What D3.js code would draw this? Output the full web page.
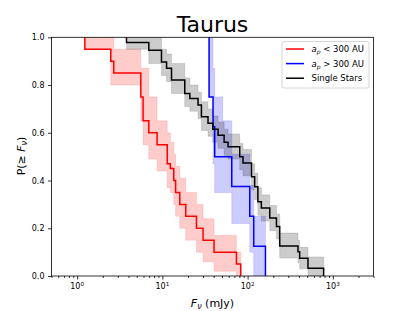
<!DOCTYPE html>
<html><head><meta charset="utf-8">
<script src="https://cdn.jsdelivr.net/npm/d3@7"></script>
<style>body{margin:0;background:#fff}svg{display:block}text{font-family:"DejaVu Sans",sans-serif}</style>
</head><body><svg id="c" width="415" height="311"></svg>
<script>
// a_p < 300 AU
const redFlux = [1.23, 2.48, 2.69, 5.58, 5.94, 6.93, 8.67, 11.4, 12.4, 13.6, 14.3, 16.0, 18.8, 25.1, 30.0, 40.4, 73.9, 83];
const redP    = [0.95, 0.90, 0.85, 0.75, 0.65, 0.60, 0.55, 0.47, 0.45, 0.40, 0.35, 0.30, 0.25, 0.20, 0.15, 0.10, 0.05, 0];
const redBandFlux = [1.23, 2.48, 2.69, 5.58, 5.94, 6.93, 8.67, 11.4, 12.4, 13.6, 14.3, 16.0, 18.8, 25.1, 30.0, 40.4, 73.9, 83];
const redHi   = [1.0, 1.0, 0.95, 0.87, 0.87, 0.75, 0.65, 0.60, 0.56, 0.51, 0.46, 0.41, 0.35, 0.30, 0.24, 0.17, 0.10, 0];
const redLo   = [0.95, 0.80, 0.80, 0.65, 0.55, 0.49, 0.44, 0.37, 0.35, 0.30, 0.25, 0.20, 0.15, 0.10, 0.06, 0.02, 0.0, 0];

// a_p > 300 AU
const blueFlux = [35.3, 39.3, 41.1, 65.2, 106, 118, 162];
const blueP    = [0.75, 0.625, 0.5, 0.375, 0.25, 0.125, 0];
const blueBandFlux = [35.3, 39.3, 41.1, 51, 65.2, 106, 118, 162];
const blueHi   = [1.0, 0.87, 0.75, 0.65, 0.51, 0.38, 0.25, 0];
const blueLo   = [0.75, 0.47, 0.35, 0.35, 0.22, 0.10, 0.0, 0];

// single stars
const blackFlux = [3.79, 6.93, 9.76, 11.2, 12.8, 18.3, 21.0, 26.2, 28.7, 34.3, 39.0, 45, 53, 58.9, 80.8, 88.3, 111, 121, 132, 145, 182, 218, 238, 390, 408, 511, 780];
const blackP    = [0.978, 0.946, 0.897, 0.870, 0.821, 0.765, 0.744, 0.716, 0.667, 0.640, 0.615, 0.59, 0.56, 0.542, 0.500, 0.473, 0.416, 0.374, 0.311, 0.285, 0.243, 0.207, 0.126, 0.102, 0.074, 0.032, 0];
const blackBandFlux = [3.79, 6.93, 9.76, 11.2, 12.8, 18.3, 21.0, 26.2, 28.7, 34.3, 39.0, 45, 53, 58.9, 80.8, 88.3, 111, 121, 132, 145, 182, 218, 238, 390, 408, 511, 780];
const blackHi   = [1.0, 1.0, 0.95, 0.93, 0.89, 0.83, 0.80, 0.77, 0.73, 0.70, 0.67, 0.645, 0.615, 0.595, 0.555, 0.53, 0.47, 0.43, 0.37, 0.34, 0.295, 0.26, 0.18, 0.15, 0.12, 0.08, 0];
const blackLo   = [0.95, 0.89, 0.84, 0.815, 0.765, 0.71, 0.69, 0.66, 0.61, 0.585, 0.56, 0.535, 0.505, 0.49, 0.445, 0.42, 0.36, 0.32, 0.255, 0.23, 0.19, 0.155, 0.075, 0.055, 0.03, 0.0, 0];

const yTicks = [0, 0.2, 0.4, 0.6, 0.8, 1.0];
const xMajor = [1, 10, 100, 1000];
const xExp = ["0", "1", "2", "3"];
const legendLabels = ["< 300 AU", "> 300 AU", "Single Stars"];

const series = [
  {flux: redFlux, p: redP, bf: redBandFlux, hi: redHi, lo: redLo, color: "#ff0000"},
  {flux: blueFlux, p: blueP, bf: blueBandFlux, hi: blueHi, lo: blueLo, color: "#0000ff"},
  {flux: blackFlux, p: blackP, bf: blackBandFlux, hi: blackHi, lo: blackLo, color: "#000000"}
];

const svg = d3.select("#c");
const L = 51.5, R = 373.5, T = 37.3, B = 276;
const x = d3.scaleLog().domain([0.5, 3000]).range([L, R]);
const y = d3.scaleLinear().domain([0, 1]).range([B, T]);

svg.append("clipPath").attr("id", "pc").append("rect")
  .attr("x", L).attr("y", T).attr("width", R - L).attr("height", B - T);
const plot = svg.append("g").attr("clip-path", "url(#pc)");

series.forEach(s => {
  const d = s.bf.map((f, i) => ({f, hi: s.hi[i], lo: s.lo[i]}));
  const area = d3.area().curve(d3.curveStepAfter)
    .x(e => x(e.f)).y0(e => y(e.lo)).y1(e => y(e.hi));
  plot.append("path").attr("d", area(d))
    .attr("fill", s.color).attr("fill-opacity", 0.2)
    .attr("stroke", s.color).attr("stroke-opacity", 0.12).attr("stroke-width", 1);
});
series.forEach(s => {
  const d = [{f: s.flux[0], p: 1}].concat(s.flux.map((f, i) => ({f, p: s.p[i]})));
  const line = d3.line().curve(d3.curveStepAfter).x(e => x(e.f)).y(e => y(e.p));
  plot.append("path").attr("d", line(d)).attr("fill", "none")
    .attr("stroke", s.color).attr("stroke-width", 1.5);
});

svg.append("g").attr("transform", `translate(0,${B})`)
  .call(d3.axisBottom(x).tickValues(xMajor).tickFormat("").tickSize(3.5));
const minors = [];
for (let e = -1; e <= 3; e++) for (let m = 2; m <= 9; m++) {
  const v = m * Math.pow(10, e);
  if (v >= 0.5 && v <= 3000) minors.push(v);
}
svg.append("g").attr("transform", `translate(0,${B})`)
  .call(d3.axisBottom(x).tickValues(minors).tickFormat("").tickSize(2));
svg.selectAll(".domain").remove();
svg.selectAll(".tick line").attr("stroke", "#000").attr("stroke-width", 0.8);

xMajor.forEach((v, i) => {
  const t = svg.append("text").attr("x", x(v)).attr("y", 289).attr("text-anchor", "middle")
    .attr("font-size", 8).attr("fill", "#000");
  t.append("tspan").text("10");
  t.append("tspan").attr("dy", -3.5).attr("font-size", 5.6).text(xExp[i]);
});

const ay = svg.append("g").attr("transform", `translate(${L},0)`)
  .call(d3.axisLeft(y).tickValues(yTicks).tickFormat(d3.format(".1f")).tickSize(3.5).tickPadding(3.5));
ay.select(".domain").remove();
ay.selectAll(".tick line").attr("stroke", "#000").attr("stroke-width", 0.8);
ay.selectAll(".tick text").attr("font-size", 8).attr("font-family", "DejaVu Sans").attr("fill", "#000");

svg.append("rect").attr("x", L).attr("y", T).attr("width", R - L).attr("height", B - T)
  .attr("fill", "none").attr("stroke", "#000").attr("stroke-width", 0.8);

svg.append("text").attr("x", (L + R) / 2).attr("y", 31.5).attr("text-anchor", "middle")
  .attr("font-size", 22).text("Taurus");
const xl = svg.append("text").attr("x", (L + R) / 2).attr("y", 307).attr("text-anchor", "middle").attr("font-size", 11);
xl.append("tspan").attr("font-style", "italic").text("F");
xl.append("tspan").attr("font-style", "italic").attr("font-size", 8).attr("dy", 2).text("ν");
xl.append("tspan").attr("dy", -2).text(" (mJy)");
const yl = svg.append("text").attr("transform", "translate(25,156) rotate(-90)").attr("text-anchor", "middle").attr("font-size", 11);
yl.append("tspan").text("P(≥ ");
yl.append("tspan").attr("font-style", "italic").text("F");
yl.append("tspan").attr("font-style", "italic").attr("font-size", 8).attr("dy", 2).text("ν");
yl.append("tspan").attr("dy", -2).text(")");

const lg = svg.append("g");
lg.append("rect").attr("x", 282).attr("y", 41.5).attr("width", 87).attr("height", 46.5).attr("rx", 2)
  .attr("fill", "#fff").attr("fill-opacity", 0.8).attr("stroke", "#cccccc").attr("stroke-width", 0.8);
series.forEach((s, i) => {
  const yy = 49 + i * 14.6;
  lg.append("line").attr("x1", 286).attr("x2", 304).attr("y1", yy).attr("y2", yy)
    .attr("stroke", s.color).attr("stroke-width", 1.5);
  const t = lg.append("text").attr("x", 311.5).attr("y", yy + 3).attr("font-size", 8.5);
  if (i < 2) {
    t.append("tspan").attr("font-style", "italic").text("a");
    t.append("tspan").attr("font-style", "italic").attr("font-size", 6).attr("dy", 2).text("p");
    t.append("tspan").attr("dy", -2).text(" " + legendLabels[i]);
  } else t.text(legendLabels[i]);
});
</script></body></html>
